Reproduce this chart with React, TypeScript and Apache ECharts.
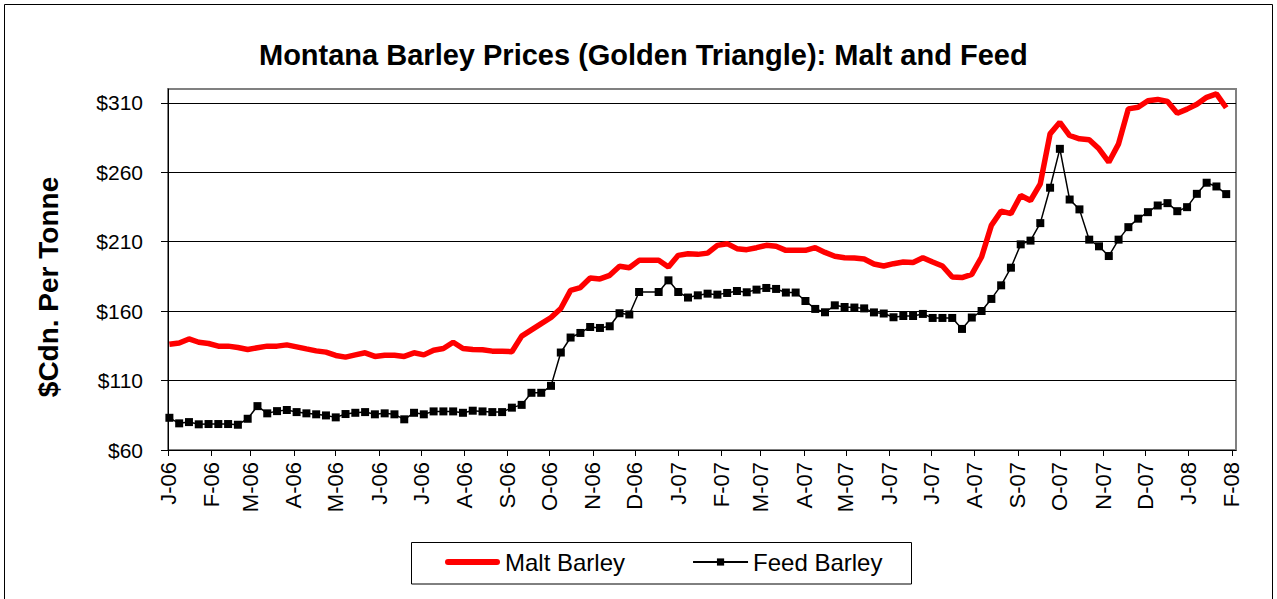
import React, { useEffect, useRef } from "react";
import * as echarts from "echarts";

const weekDates = [
  "2006-01-02", "2006-01-09", "2006-01-16", "2006-01-23", "2006-01-30",
  "2006-02-06", "2006-02-13", "2006-02-20", "2006-02-27",
  "2006-03-06", "2006-03-13", "2006-03-20", "2006-03-27",
  "2006-04-03", "2006-04-10", "2006-04-17", "2006-04-24",
  "2006-05-01", "2006-05-08", "2006-05-15", "2006-05-22", "2006-05-29",
  "2006-06-05", "2006-06-12", "2006-06-19", "2006-06-26",
  "2006-07-03", "2006-07-10", "2006-07-17", "2006-07-24", "2006-07-31",
  "2006-08-07", "2006-08-14", "2006-08-21", "2006-08-28",
  "2006-09-04", "2006-09-11", "2006-09-18", "2006-09-25",
  "2006-10-02", "2006-10-09", "2006-10-16", "2006-10-23", "2006-10-30",
  "2006-11-06", "2006-11-13", "2006-11-20", "2006-11-27",
  "2006-12-04", "2006-12-11", "2006-12-18", "2006-12-25",
  "2007-01-01", "2007-01-08", "2007-01-15", "2007-01-22", "2007-01-29",
  "2007-02-05", "2007-02-12", "2007-02-19", "2007-02-26",
  "2007-03-05", "2007-03-12", "2007-03-19", "2007-03-26",
  "2007-04-02", "2007-04-09", "2007-04-16", "2007-04-23", "2007-04-30",
  "2007-05-07", "2007-05-14", "2007-05-21", "2007-05-28",
  "2007-06-04", "2007-06-11", "2007-06-18", "2007-06-25",
  "2007-07-02", "2007-07-09", "2007-07-16", "2007-07-23", "2007-07-30",
  "2007-08-06", "2007-08-13", "2007-08-20", "2007-08-27",
  "2007-09-03", "2007-09-10", "2007-09-17", "2007-09-24",
  "2007-10-01", "2007-10-08", "2007-10-15", "2007-10-22", "2007-10-29",
  "2007-11-05", "2007-11-12", "2007-11-19", "2007-11-26",
  "2007-12-03", "2007-12-10", "2007-12-17", "2007-12-24", "2007-12-31",
  "2008-01-07", "2008-01-14", "2008-01-21", "2008-01-28",
];

const maltPrices: (number | null)[] = [
  136.2, 137.1, 140.0, 137.6, 136.7, 134.8, 134.8, 133.8, 132.4, 133.6,
  134.8, 134.8, 135.7, 134.3, 132.8, 131.4, 130.5, 128.1, 126.9, 128.5,
  130.0, 127.4, 128.3, 128.3, 127.4, 130.0, 128.5, 131.9, 133.1, 137.6,
  133.1, 132.4, 132.2, 131.2, 131.2, 130.8, 142.0, 146.5, 151.0, 155.4,
  161.9, 175.0, 177.0, 183.9, 183.2, 185.8, 192.3, 191.3, 196.6, null,
  196.6, 191.8, 200.2, 201.4, 200.9, 201.8, 207.4, 208.6, 205.0, 204.3,
  205.7, 207.4, 206.7, 203.8, 203.8, 203.8, 205.7, 202.3, 199.5, 198.5,
  198.2, 197.6, 194.0, 192.5, 194.2, 195.4, 195.1, 198.5, 195.4, 192.5,
  184.6, 184.2, 186.5, 199.0, 221.8, 232.0, 230.2, 243.3, 239.7, 251.7,
  287.7, 296.0, 286.5, 284.1, 283.4, 276.9, 267.3, 280.5, 305.7, 306.8,
  311.5, 312.5, 311.0, 302.5, 305.5, 309.0, 314.0, 316.5, 306.5,
];

const feedPrices: (number | null)[] = [
  83.2, 79.2, 80.1, 78.5, 78.7, 78.7, 78.7, 78.2, 82.5, 91.6,
  86.4, 88.0, 88.8, 87.3, 86.4, 85.7, 84.9, 83.5, 85.9, 86.8,
  87.3, 85.7, 86.4, 85.7, 82.1, 86.8, 85.7, 87.8, 87.8, 87.8,
  86.8, 88.3, 87.8, 87.3, 87.3, 90.5, 92.5, 101.2, 101.2, 106.2,
  130.2, 141.0, 144.3, 148.6, 147.9, 149.1, 158.5, 157.6, 173.8, null,
  173.8, 182.2, 173.8, 169.8, 171.4, 172.6, 171.9, 173.1, 174.5, 173.6,
  175.5, 176.7, 176.0, 173.4, 173.4, 167.3, 161.6, 159.2, 164.2, 163.0,
  162.6, 162.0, 159.1, 158.3, 155.6, 156.5, 156.5, 158.0, 155.1, 155.1,
  155.1, 147.2, 155.4, 160.1, 168.8, 178.6, 191.3, 208.1, 210.8, 223.4,
  248.9, 276.9, 240.4, 233.3, 211.5, 206.7, 199.7, 211.5, 220.5, 226.6,
  231.3, 236.1, 237.8, 232.0, 234.9, 244.5, 252.5, 249.8, 244.3,
];

const yTicks = [60, 110, 160, 210, 260, 310];
const monthLetters = ["J", "F", "M", "A", "M", "J", "J", "A", "S", "O", "N", "D"];

const FONT = "'Liberation Sans', Arial, sans-serif";
const DAY = 24 * 3600 * 1000;

export default function App() {
  const ref = useRef<HTMLDivElement>(null);

  useEffect(() => {
    if (!ref.current) return;
    const chart = echarts.init(ref.current, null, { renderer: "svg" });
    const maltData = weekDates.map((d, i) => [d, maltPrices[i]]);
    const feedData = weekDates.map((d, i) => [d, feedPrices[i]]);

    chart.setOption({
      animation: false,
      backgroundColor: "#fff",
      textStyle: { fontFamily: FONT },
      title: {
        text: "Montana Barley Prices (Golden Triangle): Malt and Feed",
        left: 259,
        top: 40,
        padding: 0,
        textStyle: { fontSize: 29, fontWeight: "bold", color: "#000", fontFamily: FONT },
      },
      legend: {
        left: 445,
        top: 550,
        padding: 0,
        itemWidth: 55,
        itemHeight: 9,
        itemGap: 67,
        textStyle: { fontSize: 24, color: "#000", fontFamily: FONT },
        data: [
          {
            name: "Malt Barley",
            icon: "path://M3,0 L52,0 Q55,0 55,3 Q55,6 52,6 L3,6 Q0,6 0,3 Q0,0 3,0 Z",
            itemStyle: { color: "#ff0000" },
          },
          { name: "Feed Barley" },
        ],
      },
      grid: {
        left: 168,
        right: 41,
        top: 89,
        bottom: 149,
        show: true,
        borderColor: "#808080",
        borderWidth: 2,
        backgroundColor: "#fff",
      },
      xAxis: {
        type: "time",
        min: "2006-01-01",
        max: "2008-02-04",
        minInterval: 28 * DAY,
        maxInterval: 31 * DAY,
        axisLine: { lineStyle: { color: "#000", width: 1 } },
        axisTick: { show: true, length: 6, lineStyle: { color: "#000" } },
        splitLine: { show: false },
        axisLabel: {
          rotate: 90,
          margin: 12,
          fontSize: 22,
          color: "#000",
          fontFamily: FONT,
          hideOverlap: false,
          formatter: (value: number) => {
            const d = new Date(value);
            if (d.getDate() !== 1) return "";
            return monthLetters[d.getMonth()] + "-" + String(d.getFullYear()).slice(2);
          },
        },
      },
      yAxis: {
        type: "value",
        min: 60,
        max: 320,
        interval: 50,
        axisLine: { show: true, lineStyle: { color: "#000", width: 1 } },
        axisTick: { show: true, length: 7, lineStyle: { color: "#000" }, customValues: yTicks },
        axisLabel: {
          margin: 25,
          fontSize: 21,
          color: "#000",
          fontFamily: FONT,
          customValues: yTicks,
          formatter: (v: number) => (v > 310 ? "" : "$" + v),
        },
        splitLine: { show: true, lineStyle: { color: "#000", width: 1 } },
      },
      series: [
        {
          name: "Malt Barley",
          type: "line",
          data: maltData,
          connectNulls: true,
          showSymbol: false,
          symbol: "none",
          lineStyle: { color: "#ff0000", width: 5.5 },
          itemStyle: { color: "#ff0000" },
          z: 3,
        },
        {
          name: "Feed Barley",
          type: "line",
          data: feedData,
          connectNulls: true,
          symbol: "rect",
          symbolSize: 8,
          lineStyle: { color: "#000", width: 1.5 },
          itemStyle: { color: "#000" },
          z: 2,
        },
      ],
      graphic: [
        {
          type: "rect",
          shape: { x: 4.5, y: 4.5, width: 1268, height: 640 },
          style: { fill: "none", stroke: "#000", lineWidth: 1 },
          silent: true,
          z: -1,
        },
        {
          type: "rect",
          shape: { x: 411.5, y: 542.5, width: 500, height: 41.5 },
          style: { fill: "none", stroke: "#000", lineWidth: 1 },
          silent: true,
        },
        {
          type: "text",
          x: 48,
          y: 287,
          rotation: Math.PI / 2,
          style: {
            text: "$Cdn. Per Tonne",
            fontSize: 28,
            fontWeight: "bold",
            fontFamily: FONT,
            fill: "#000",
            align: "center",
            verticalAlign: "middle",
          },
        },
      ],
    });

    return () => chart.dispose();
  }, []);

  return (
    <div
      ref={ref}
      style={{ position: "fixed", left: 0, top: 0, width: 1277, height: 599, background: "#fff" }}
    />
  );
}
